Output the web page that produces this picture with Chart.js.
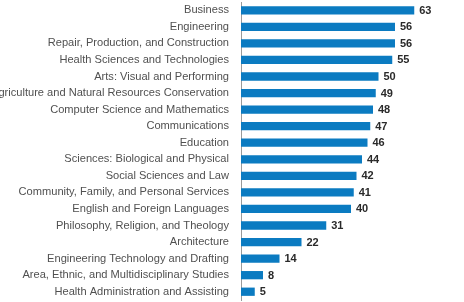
<!DOCTYPE html>
<html>
<head>
<meta charset="utf-8">
<script src="https://cdn.jsdelivr.net/npm/chart.js@4"></script>
<style>
  html, body { margin: 0; padding: 0; background: #fff; }
  canvas { display: block; }
</style>
</head>
<body>
<canvas id="fieldChart" width="464" height="302"></canvas>
<script>
// fields of study and their values, top to bottom
const fields = [
    "Business",
    "Engineering",
    "Repair, Production, and Construction",
    "Health Sciences and Technologies",
    "Arts: Visual and Performing",
    "Agriculture and Natural Resources Conservation",
    "Computer Science and Mathematics",
    "Communications",
    "Education",
    "Sciences: Biological and Physical",
    "Social Sciences and Law",
    "Community, Family, and Personal Services",
    "English and Foreign Languages",
    "Philosophy, Religion, and Theology",
    "Architecture",
    "Engineering Technology and Drafting",
    "Area, Ethnic, and Multidisciplinary Studies",
    "Health Administration and Assisting"
];
const values = [63, 56, 56, 55, 50, 49, 48, 47, 46, 44, 42, 41, 40, 31, 22, 14, 8, 5];

// draws the number just past the end of each bar
const valueLabels = {
    id: "valueLabels",
    afterDatasetsDraw(chart) {
        const ctx = chart.ctx;
        const meta = chart.getDatasetMeta(0);
        ctx.save();
        ctx.font = "bold 11px 'Liberation Sans', Arial, sans-serif";
        ctx.fillStyle = "#2a2a2a";
        ctx.textAlign = "left";
        ctx.textBaseline = "middle";
        meta.data.forEach(function (bar, i) {
            ctx.fillText(String(values[i]), bar.x + 5, bar.y + 0.5);
        });
        ctx.restore();
    }
};

new Chart("fieldChart", {
    type: "bar",
    data: {
        labels: fields,
        datasets: [{
            data: values,
            backgroundColor: "#0b7bc1",
            borderWidth: 0,
            barPercentage: 0.5,
            categoryPercentage: 1.0
        }]
    },
    options: {
        indexAxis: "y",
        responsive: false,
        animation: false,
        layout: { padding: { top: 2, bottom: 2, left: 0, right: 3 } },
        plugins: {
            legend: { display: false },
            tooltip: { enabled: false }
        },
        scales: {
            x: {
                display: false,
                min: 0,
                max: 80
            },
            y: {
                afterFit: function (scale) {
                    // fixed label column, and no extra room above/below
                    scale.width = 241;
                    scale.paddingTop = 0;
                    scale.paddingBottom = 0;
                },
                grid: { display: false, drawTicks: false },
                border: { display: true, color: "#9a9a9a", width: 1 },
                ticks: {
                    padding: 12,
                    autoSkip: false,
                    color: "#505050",
                    font: { family: "'Liberation Sans', Arial, sans-serif", size: 11.1 }
                }
            }
        }
    },
    plugins: [valueLabels]
});
</script>
</body>
</html>
